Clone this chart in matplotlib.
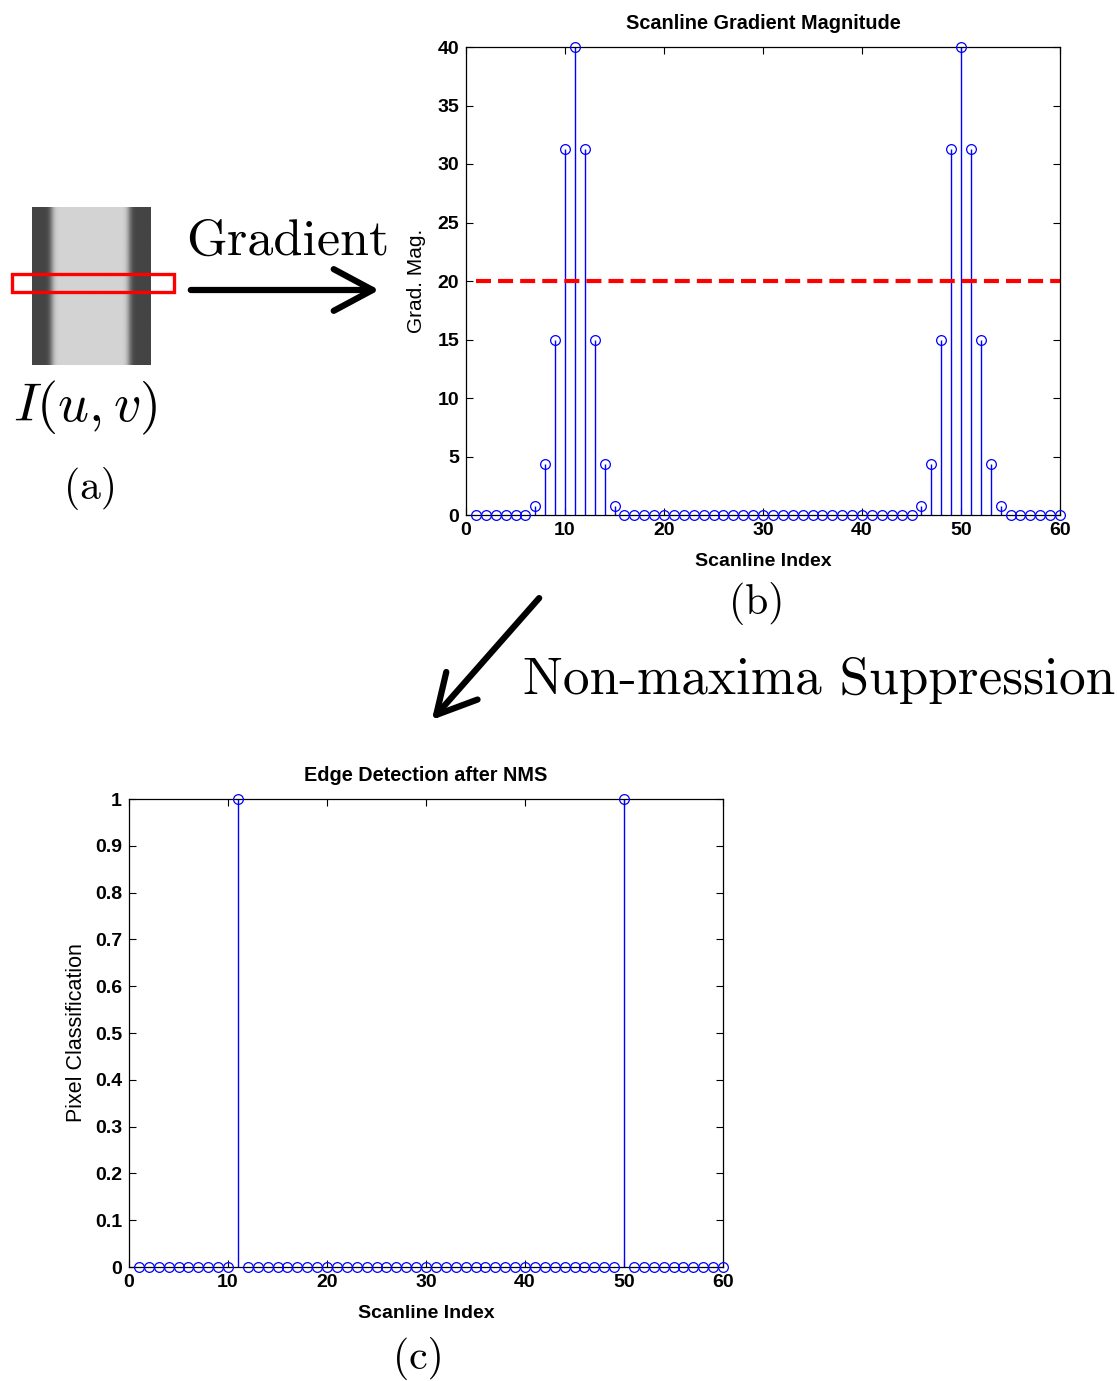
import numpy as np
import matplotlib
matplotlib.use("Agg")
import matplotlib.pyplot as plt
from matplotlib.patches import Rectangle, FancyArrowPatch

# scanline index and gradient magnitude
scan_idx = list(range(1, 61))
grad_mag = [0, 0, 0, 0, 0, 0, 0.8, 4.4, 15, 31.3, 40, 31.3, 15, 4.4, 0.8,
            0, 0, 0, 0, 0, 0, 0, 0, 0, 0, 0, 0, 0, 0, 0,
            0, 0, 0, 0, 0, 0, 0, 0, 0, 0, 0, 0, 0, 0, 0,
            0.8, 4.4, 15, 31.3, 40, 31.3, 15, 4.4, 0.8, 0, 0, 0, 0, 0, 0]
threshold = 20
# edge classification after NMS (panel c)
edge_cls = [0] * 60
edge_cls[10] = 1
edge_cls[49] = 1

dark_level = 68  # grey value of the dark bands in I(u,v)

plt.rcParams["font.family"] = ["Liberation Sans", "DejaVu Sans"]
plt.rcParams["mathtext.fontset"] = "cm"

W, H = 1117, 1381
fig = plt.figure(figsize=(W / 100, H / 100), dpi=100)


def fx(px):
    return px / W


def fy(py):
    return 1 - py / H


def style_axes(ax):
    ax.tick_params(direction="in", top=True, right=True, length=5, width=0.8,
                   labelsize=14, pad=5)
    for lbl in ax.get_xticklabels() + ax.get_yticklabels():
        lbl.set_fontweight("bold")
    for s in ax.spines.values():
        s.set_linewidth(0.9)


def draw_stem(ax, x, y):
    ml, sl, bl = ax.stem(x, y, linefmt="b-", markerfmt="bo", basefmt=" ")
    plt.setp(sl, lw=1.0, color="blue")
    plt.setp(ml, markerfacecolor="none", markeredgecolor="blue",
             markersize=7, markeredgewidth=0.9, clip_on=False, zorder=5)


# ---- panel (a): image strip built from the scanline profile
signs = np.where(np.array(scan_idx) < 30, 1, -1)
profile = dark_level + np.cumsum(signs * np.array(grad_mag))
img = np.tile(profile, (40, 1))
ax_img = fig.add_axes([fx(32), fy(365), fx(151) - fx(32), fy(207) - fy(365)])
ax_img.imshow(img, cmap="gray", vmin=0, vmax=255, aspect="auto",
              interpolation="bilinear")
ax_img.axis("off")

fig.add_artist(Rectangle((fx(12), fy(292)), fx(174) - fx(12), fy(274) - fy(292),
                         transform=fig.transFigure, fill=False,
                         edgecolor="red", lw=2.4))
fig.text(fx(85), fy(408), r"$I(u,v)$", fontsize=39, ha="center", va="center")
fig.text(fx(90), fy(488), "(a)", family="cmr10", fontsize=30,
         ha="center", va="center")

fig.text(fx(288), fy(242), "Gradient", family="cmr10", fontsize=37.5,
         ha="center", va="center")
fig.add_artist(FancyArrowPatch((fx(188), fy(290)), (fx(382), fy(290)),
                               transform=fig.transFigure,
                               arrowstyle="->,head_length=1.4,head_width=0.75",
                               mutation_scale=20, lw=4.5, color="black"))

# ---- panel (b): gradient magnitude
ax1 = fig.add_axes([fx(466), fy(515), fx(1060) - fx(466), fy(47) - fy(515)])
draw_stem(ax1, scan_idx, grad_mag)
ax1.plot([scan_idx[0], scan_idx[-1]], [threshold, threshold], color="red",
         lw=3, dashes=(3.6, 1.7))
ax1.set_xlim(0, 60)
ax1.set_ylim(0, 40)
ax1.set_xticks(range(0, 61, 10))
ax1.set_yticks(range(0, 41, 5))
style_axes(ax1)
ax1.set_title("Scanline Gradient Magnitude", fontsize=14.3, fontweight="bold",
              pad=13)
ax1.set_xlabel("Scanline Index", fontsize=14, fontweight="bold", labelpad=10)
ax1.set_ylabel("Grad. Mag.", fontsize=15, labelpad=8)
fig.text(fx(757), fy(603), "(b)", family="cmr10", fontsize=30,
         ha="center", va="center")

fig.add_artist(FancyArrowPatch((fx(541), fy(596)), (fx(430), fy(722)),
                               transform=fig.transFigure,
                               arrowstyle="->,head_length=1.4,head_width=0.75",
                               mutation_scale=20, lw=4.5, color="black"))
fig.text(fx(819), fy(680), "Non-maxima Suppression", family="cmr10",
         fontsize=38.3, ha="center", va="center")

# ---- panel (c): edges after NMS
ax2 = fig.add_axes([fx(129), fy(1267), fx(723) - fx(129), fy(799) - fy(1267)])
draw_stem(ax2, scan_idx, edge_cls)
ax2.set_xlim(0, 60)
ax2.set_ylim(0, 1)
ax2.set_xticks(range(0, 61, 10))
ax2.set_yticks(np.arange(0, 1.01, 0.1))
ax2.set_yticklabels(["0"] + ["%.1f" % v for v in np.arange(0.1, 0.95, 0.1)] + ["1"])
style_axes(ax2)
ax2.set_title("Edge Detection after NMS", fontsize=14.3, fontweight="bold",
              pad=13)
ax2.set_xlabel("Scanline Index", fontsize=14, fontweight="bold", labelpad=10)
ax2.set_ylabel("Pixel Classification", fontsize=15.5, labelpad=6)
fig.text(fx(418), fy(1358), "(c)", family="cmr10", fontsize=30,
         ha="center", va="center")

fig.savefig("out.png", dpi=100)
